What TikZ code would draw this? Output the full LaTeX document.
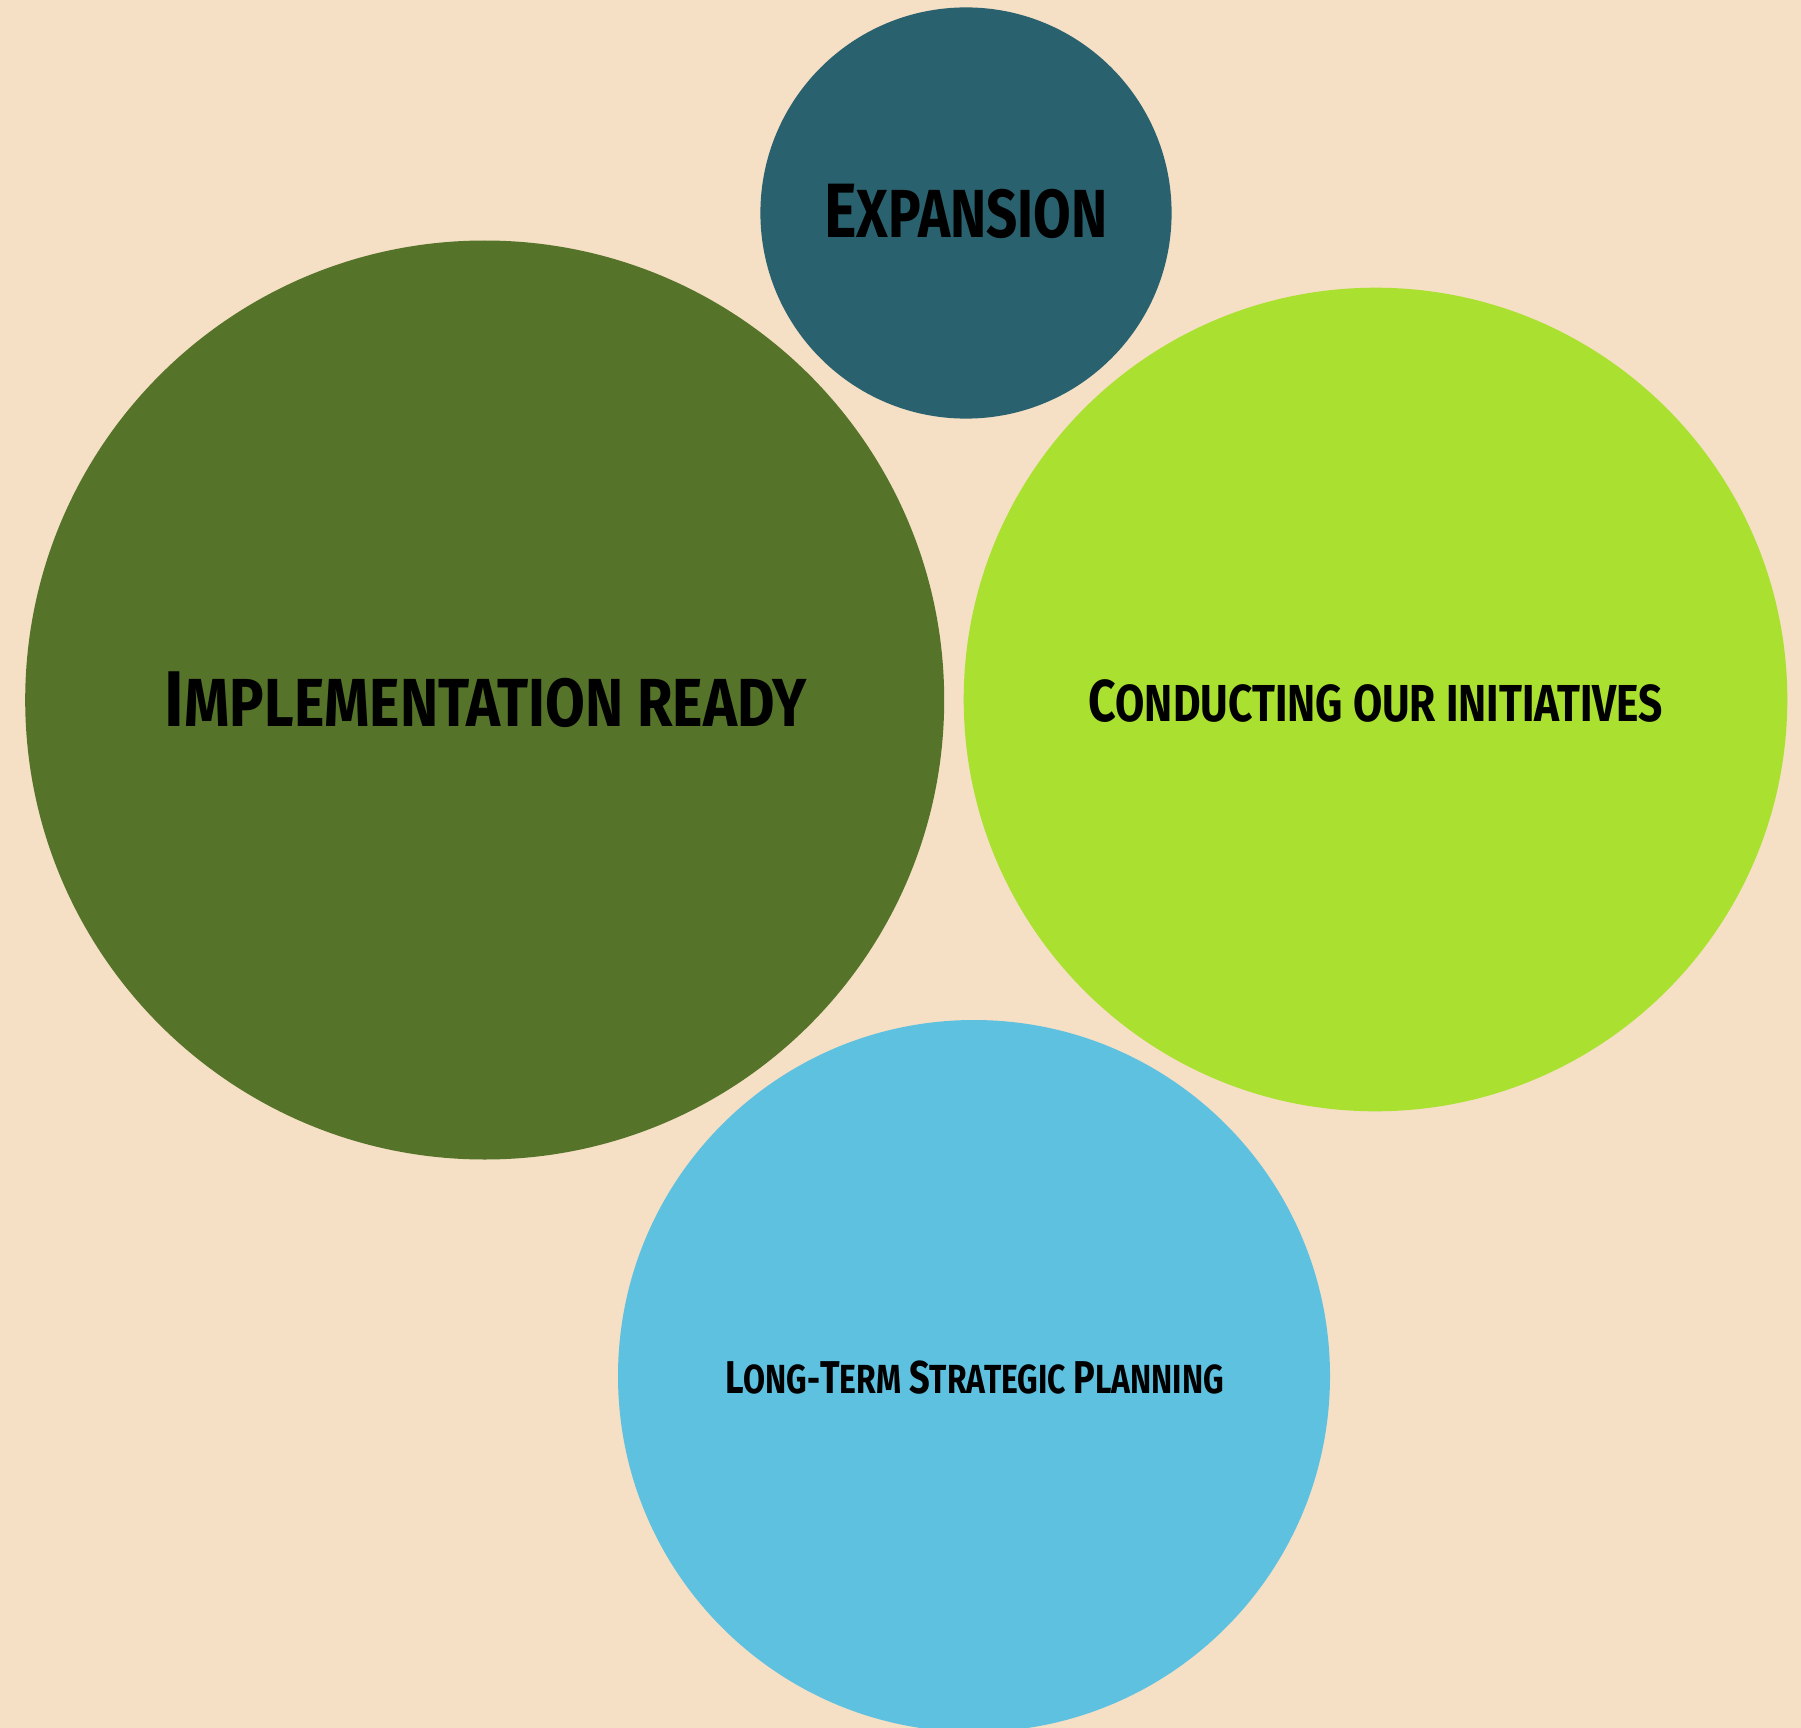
\documentclass[tikz,border=0pt]{standalone}
\usepackage{fontspec}
\usepackage{graphicx}
\setmainfont{Fira Sans}
\definecolor{bgc}{HTML}{F5DFC5}
\definecolor{expc}{HTML}{29616E}
\definecolor{impc}{HTML}{55742A}
\definecolor{conc}{HTML}{AAE02F}
\definecolor{ltc}{HTML}{5EC1E0}
\newcommand\sizedtxt[2]{\fontsize{#1}{#1}\selectfont #2}
\newcommand\fitwidth[2]{\resizebox{#1pt}{\height}{#2}}
\begin{document}
\begin{tikzpicture}[x=1pt,y=-1pt,
  bubble/.style={circle,inner sep=0pt,draw=none},
  lbl/.style={anchor=base,inner sep=0pt,text=black,font=\bfseries}]
\fill[bgc] (0,0) rectangle (1801,1728);
\useasboundingbox (0,0) rectangle (1801,1728);
\node[bubble,fill=expc,minimum size=411.2pt] (exp) at (966,213) {};
\node[bubble,fill=impc,minimum size=919pt] (imp) at (484.7,700) {};
\node[bubble,fill=conc,minimum size=823.6pt] (con) at (1375.5,699.5) {};
\node[bubble,fill=ltc,minimum size=712pt] (lt) at (974,1376) {};
\node[lbl] (texp) at (966,238) {\fitwidth{283}{\sizedtxt{77}{E}\sizedtxt{68}{XPANSION}}};
\node[lbl] (timp) at (486,726) {\fitwidth{642}{\sizedtxt{79}{I}\sizedtxt{68}{MPLEMENTATION READY}}};
\node[lbl] (tcon) at (1375.5,721) {\fitwidth{575}{\sizedtxt{59}{C}\sizedtxt{52}{ONDUCTING OUR INITIATIVES}}};
\node[lbl] (tlt) at (974.5,1393) {\fitwidth{499}{\sizedtxt{46}{L}\sizedtxt{40.6}{ONG-}\sizedtxt{46}{T}\sizedtxt{40.6}{ERM }\sizedtxt{46}{S}\sizedtxt{40.6}{TRATEGIC }\sizedtxt{46}{P}\sizedtxt{40.6}{LANNING}}};
\end{tikzpicture}
\end{document}
